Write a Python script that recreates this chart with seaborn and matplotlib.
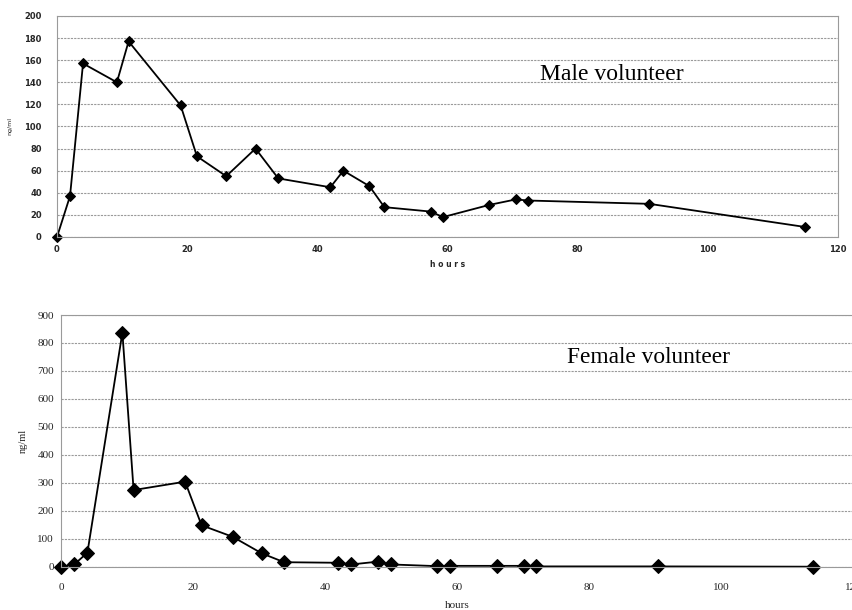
import matplotlib
matplotlib.use("Agg")
import matplotlib.pyplot as plt
import seaborn as sns
import pandas as pd

# Male volunteer: concentration (ng/ml) over time (hours)
male_hours = [0, 2, 4, 9.2, 11, 19, 21.5, 26, 30.5, 34, 42, 44, 48, 50.3, 57.4, 59.3, 66.4, 70.5, 72.4, 91, 115]
male_conc = [0, 37, 157, 140, 177, 119, 73, 55, 80, 53, 45, 60, 46, 27, 23, 18, 29, 34, 33, 30, 9]

# Female volunteer: concentration (ng/ml) over time (hours)
female_hours = [0, 2, 4, 9.3, 11, 18.8, 21.3, 26, 30.4, 33.8, 42, 44, 48, 50, 57, 59, 66, 70.2, 72, 90.4, 114]
female_conc = [0, 8, 50, 837, 274, 304, 148, 107, 48, 16, 14, 8, 18, 8, 2, 3, 3, 3, 1, 1, 0]

male_yticks = [0, 20, 40, 60, 80, 100, 120, 140, 160, 180, 200]
female_yticks = [0, 100, 200, 300, 400, 500, 600, 700, 800, 900]
xticks = [0, 20, 40, 60, 80, 100, 120]

sns.set_theme(style="white")
plt.rcParams["font.family"] = ["DejaVu Sans"]

fig = plt.figure(figsize=(8.52, 6.10), dpi=100)
ax1 = fig.add_axes([0.0669, 0.6115, 0.9167, 0.3623])
ax2 = fig.add_axes([0.0716, 0.0710, 0.9296, 0.4126])

male = pd.DataFrame({"hours": male_hours, "conc": male_conc})
female = pd.DataFrame({"hours": female_hours, "conc": female_conc})

sns.lineplot(data=male, x="hours", y="conc", ax=ax1, color="black", linewidth=1.3,
             marker="D", markersize=5, markeredgecolor="black", sort=False,
             estimator=None, clip_on=False)
sns.lineplot(data=female, x="hours", y="conc", ax=ax2, color="black", linewidth=1.3,
             marker="D", markersize=7.5, markeredgecolor="black", sort=False,
             estimator=None, clip_on=False)

grid_kw = dict(color="#9a9a9a", linestyle=(0, (2, 1)), linewidth=0.8)

# Upper panel
ax1.set_xlim(0, 120)
ax1.set_ylim(0, 200)
ax1.set_yticks(male_yticks)
ax1.set_xticks(xticks)
ax1.yaxis.grid(True, **grid_kw)
ax1.set_axisbelow(True)
ax1.tick_params(axis="both", length=0, labelsize=6)
for lbl in ax1.get_xticklabels() + ax1.get_yticklabels():
    lbl.set_fontweight("bold")
ax1.tick_params(axis="y", pad=11)
ax1.tick_params(axis="x", pad=6)
ax1.set_xlabel("h o u r s", fontsize=5.5, fontweight="bold", labelpad=4)
ax1.set_ylabel("ng/ml", fontsize=4.5)
ax1.yaxis.set_label_coords(-0.057, 0.5)
for s in ax1.spines.values():
    s.set_color("#9a9a9a")
    s.set_linestyle((0, (2, 1)))
    s.set_linewidth(0.8)
ax1.text(0.618, 0.733, "Male volunteer", transform=ax1.transAxes, va="center",
         fontsize=17, family="Liberation Serif", color="black")

# Lower panel
ax2.set_xlim(0, 120)
ax2.set_ylim(0, 900)
ax2.set_yticks(female_yticks)
ax2.set_xticks(xticks)
ax2.yaxis.grid(True, **grid_kw)
ax2.set_axisbelow(True)
ax2.tick_params(axis="both", length=0, labelsize=8)
for lbl in ax2.get_xticklabels() + ax2.get_yticklabels():
    lbl.set_family("Liberation Serif")
ax2.tick_params(axis="y", pad=5)
ax2.tick_params(axis="x", pad=12)
ax2.set_xlabel("hours", fontsize=8, family="Liberation Serif", labelpad=6)
ax2.set_ylabel("ng/ml", fontsize=7.5, family="Liberation Serif")
ax2.yaxis.set_label_coords(-0.042, 0.5)
for s in ax2.spines.values():
    s.set_color("#9a9a9a")
    s.set_linestyle((0, (2, 1)))
    s.set_linewidth(0.8)
ax2.text(0.639, 0.833, "Female volunteer", transform=ax2.transAxes, va="center",
         fontsize=16.8, family="Liberation Serif", color="black")

fig.savefig("out.png", dpi=100)
